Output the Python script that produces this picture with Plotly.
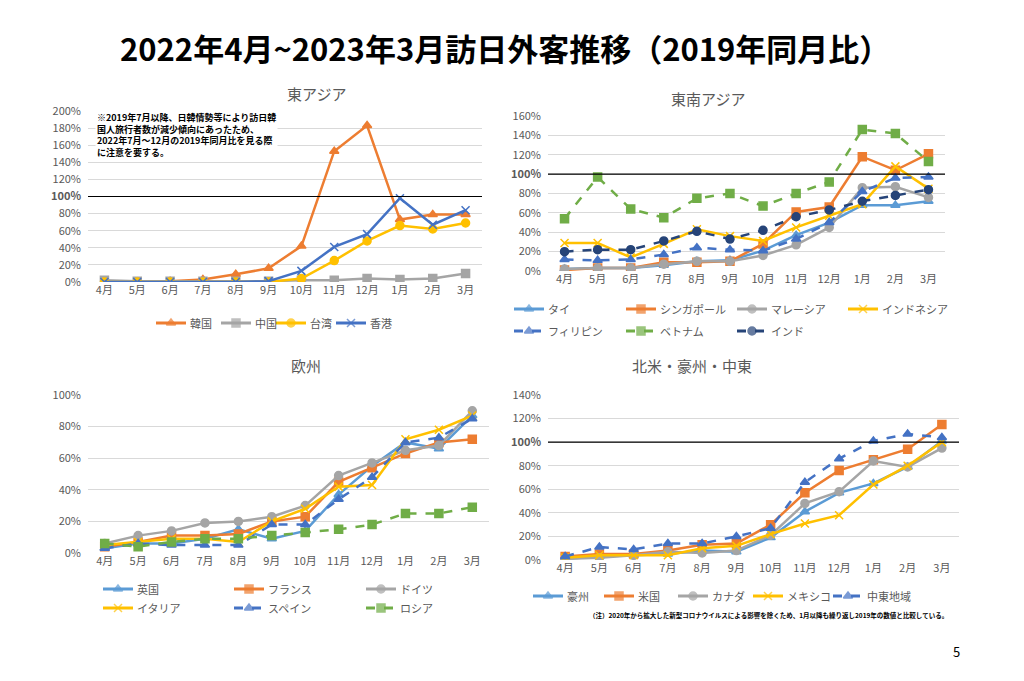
import plotly.graph_objects as go

months = ["4月", "5月", "6月", "7月", "8月", "9月", "10月", "11月", "12月", "1月", "2月", "3月"]

# 東アジア
korea = [0, 0, 1, 3, 9, 16, 42, 153, 183, 73, 79, 79]
china = [2, 1, 1, 1, 1, 1, 2, 2, 4, 3, 4, 10]
taiwan = [0, 0, 0, 0, 0, 0, 4, 25, 48, 66, 62, 69]
hongkong = [0, 0, 0, 0, 0, 1, 13, 41, 56, 98, 67, 84]

# 東南アジア
thai = [2, 3, 3, 6, 10, 11, 21, 37, 50, 68, 68, 72]
singapore = [1, 3, 3, 9, 9, 10, 28, 61, 66, 118, 104, 121]
malaysia = [2, 3, 3, 7, 10, 10, 16, 27, 45, 86, 87, 76]
indonesia = [29, 29, 14, 28, 43, 36, 31, 45, 57, 69, 108, 85]
philippines = [12, 11, 12, 17, 24, 22, 21, 33, 50, 82, 96, 97]
vietnam = [54, 97, 64, 55, 75, 80, 67, 80, 92, 146, 142, 113]
india = [20, 22, 22, 31, 41, 33, 42, 56, 63, 72, 78, 84]

# 欧州
uk = [3, 6, 6, 9, 15, 9, 14, 37, 55, 70, 66, 87]
france = [4, 7, 11, 11, 12, 20, 23, 45, 54, 63, 70, 72]
germany = [6, 11, 14, 19, 20, 23, 30, 49, 57, 65, 68, 90]
italy = [5, 7, 9, 9, 7, 20, 28, 42, 43, 72, 78, 87]
spain = [3, 6, 5, 5, 5, 18, 18, 34, 48, 70, 73, 85]
russia = [6, 4, 7, 9, 9, 11, 13, 15, 18, 25, 25, 29]

# 北米・豪州・中東
australia = [1, 3, 4, 5, 8, 7, 19, 41, 57, 65, 79, 101]
usa = [3, 5, 5, 8, 13, 14, 30, 57, 76, 85, 94, 115]
canada = [1, 2, 4, 7, 6, 8, 21, 48, 58, 84, 79, 95]
mexico = [2, 4, 4, 4, 10, 12, 22, 31, 38, 64, 80, 100]
mideast = [3, 11, 9, 14, 14, 20, 27, 66, 86, 101, 107, 104]

ORANGE, GRAY, GOLD, BLUE = "#ED7D31", "#A5A5A5", "#FFC000", "#4472C4"
LBLUE, GREEN, DBLUE = "#5B9BD5", "#70AD47", "#264478"
FONT = "Noto Sans CJK JP"
W, H = 1024, 681
OX, OY = -8, -7  # correction for where the page ends up


def px(x):
    return (x + OX) / W


def py(y):
    return 1 - (y + OY) / H


fig = go.Figure()

# panel: (axis suffix, px box [x0, x1, ytop, ybottom], ymax, title)
panels = [
    ("", [88, 482, 110, 281], 200, "東アジア"),
    ("2", [548, 945, 115, 270], 160, "東南アジア"),
    ("3", [88, 489, 394, 552], 100, "欧州"),
    ("4", [548, 959, 394, 559], 140, "北米・豪州・中東"),
]

# (name, values, colour, marker, dash, legend line start x, legend row y) in px
series = [
    [("韓国", korea, ORANGE, "triangle-up", "solid", 156, 322),
     ("中国", china, GRAY, "square", "solid", 221, 322),
     ("台湾", taiwan, GOLD, "circle", "solid", 276, 322),
     ("香港", hongkong, BLUE, "x-thin", "solid", 336, 322)],
    [("タイ", thai, LBLUE, "triangle-up", "solid", 514, 308),
     ("シンガポール", singapore, ORANGE, "square", "solid", 626, 308),
     ("マレーシア", malaysia, GRAY, "circle", "solid", 737, 308),
     ("インドネシア", indonesia, GOLD, "x-thin", "solid", 848, 308),
     ("フィリピン", philippines, BLUE, "triangle-up", "dash", 514, 330),
     ("ベトナム", vietnam, GREEN, "square", "dash", 626, 330),
     ("インド", india, DBLUE, "circle", "dash", 737, 330)],
    [("英国", uk, LBLUE, "triangle-up", "solid", 103, 588),
     ("フランス", france, ORANGE, "square", "solid", 234, 588),
     ("ドイツ", germany, GRAY, "circle", "solid", 366, 588),
     ("イタリア", italy, GOLD, "x-thin", "solid", 103, 607),
     ("スペイン", spain, BLUE, "triangle-up", "dash", 234, 607),
     ("ロシア", russia, GREEN, "square", "dash", 366, 607)],
    [("豪州", australia, LBLUE, "triangle-up", "solid", 533, 595),
     ("米国", usa, ORANGE, "square", "solid", 604, 595),
     ("カナダ", canada, GRAY, "circle", "solid", 678, 595),
     ("メキシコ", mexico, GOLD, "x-thin", "solid", 753, 595),
     ("中東地域", mideast, BLUE, "triangle-up", "dash", 833, 595)],
]

LEN = 30
layout = {}
for (suf, box, ymax, title), ser in zip(panels, series):
    x0, x1, yt, yb = box
    for name, vals, col, sym, dash, lx, ly in ser:
        fig.add_trace(go.Scatter(
            x=months, y=[v / 100 for v in vals], name=name, mode="lines+markers",
            line=dict(color=col, width=2.5, dash=dash),
            marker=dict(symbol=sym, size=8, color=col, line=dict(color=col, width=1.5)),
            xaxis="x" + suf, yaxis="y" + suf,
        ))
        # legend sample on the pixel overlay axis
        fig.add_trace(go.Scatter(
            x=[lx, lx + LEN / 2, lx + LEN], y=[ly, ly, ly], mode="lines+markers",
            line=dict(color=col, width=3, dash="dash" if dash == "dash" else "solid"),
            marker=dict(symbol=sym, size=[0, 8, 0], color=col, line=dict(color=col, width=1.5)),
            xaxis="x5", yaxis="y5", hoverinfo="skip",
        ))
        fig.add_annotation(text=name, x=lx + LEN + 2, y=ly, xref="x5", yref="y5",
                           xanchor="left", showarrow=False,
                           font=dict(size=11, color="#595959"))
    tickvals = [i / 100 for i in range(0, ymax + 1, 20)]
    ticktext = ["<b>100%</b>" if (v == 1 and ymax != 100) else f"{round(v * 100)}%" for v in tickvals]
    layout["xaxis" + suf] = dict(domain=[px(x0), px(x1)], anchor="y" + suf, type="category",
                                 range=[-0.5, 11.5], showgrid=False, ticks="", automargin=False,
                                 tickfont=dict(size=11, color="#595959"), showline=False)
    layout["yaxis" + suf] = dict(domain=[py(yb), py(yt)], anchor="x" + suf, automargin=False,
                                 range=[0, ymax / 100], tickvals=tickvals, ticktext=ticktext,
                                 gridcolor="#D9D9D9", zeroline=False, ticklabelstandoff=6,
                                 tickfont=dict(size=11, color="#595959"))
    fig.add_annotation(text=title, x=px((x0 + x1) / 2), y=py(yt - 30), xref="paper",
                       yref="paper", showarrow=False, font=dict(size=15, color="#595959"))
    if ymax > 100:
        fig.add_shape(type="line", xref="x" + suf + " domain", yref="y" + suf, x0=0, x1=1,
                      y0=1, y1=1, line=dict(color="black", width=1.2))

layout["xaxis5"] = dict(domain=[0, 1], range=[-OX, W - OX], visible=False, anchor="y5",
                        fixedrange=True, automargin=False)
layout["yaxis5"] = dict(domain=[0, 1], range=[H - OY, -OY], visible=False, anchor="x5",
                        fixedrange=True, automargin=False)
fig.update_layout(**layout)

fig.add_annotation(text="<b>2022年4月~2023年3月訪日外客推移（2019年同月比）</b>", x=px(505), y=py(22),
                   xref="paper", yref="paper", showarrow=False,
                   font=dict(size=31, color="black", family=FONT), xanchor="center")
fig.add_annotation(
    text="<b>※2019年7月以降、日韓情勢等により訪日韓<br>国人旅行者数が減少傾向にあったため、<br>"
         "2022年7月～12月の2019年同月比を見る際<br>に注意を要する。</b>",
    x=px(95), y=py(108), xref="paper", yref="paper", showarrow=False, xanchor="left",
    yanchor="top", align="left", font=dict(size=9, color="black"), bgcolor="white")
fig.add_annotation(
    text="<b>（注）2020年から拡大した新型コロナウイルスによる影響を除くため、1月以降も繰り返し2019年の数値と比較している。</b>",
    x=px(950), y=py(621), xref="paper", yref="paper", showarrow=False, xanchor="right",
    font=dict(size=6.5, color="black"))
fig.add_annotation(text="5", x=px(962), y=py(662), xref="paper", yref="paper",
                   showarrow=False, font=dict(size=13, color="black"))

fig.update_layout(width=W, height=H, margin=dict(l=0, r=0, t=0, b=0), showlegend=False,
                  paper_bgcolor="white", plot_bgcolor="rgba(0,0,0,0)",
                  font=dict(family=FONT))
fig.write_html("out.html")
